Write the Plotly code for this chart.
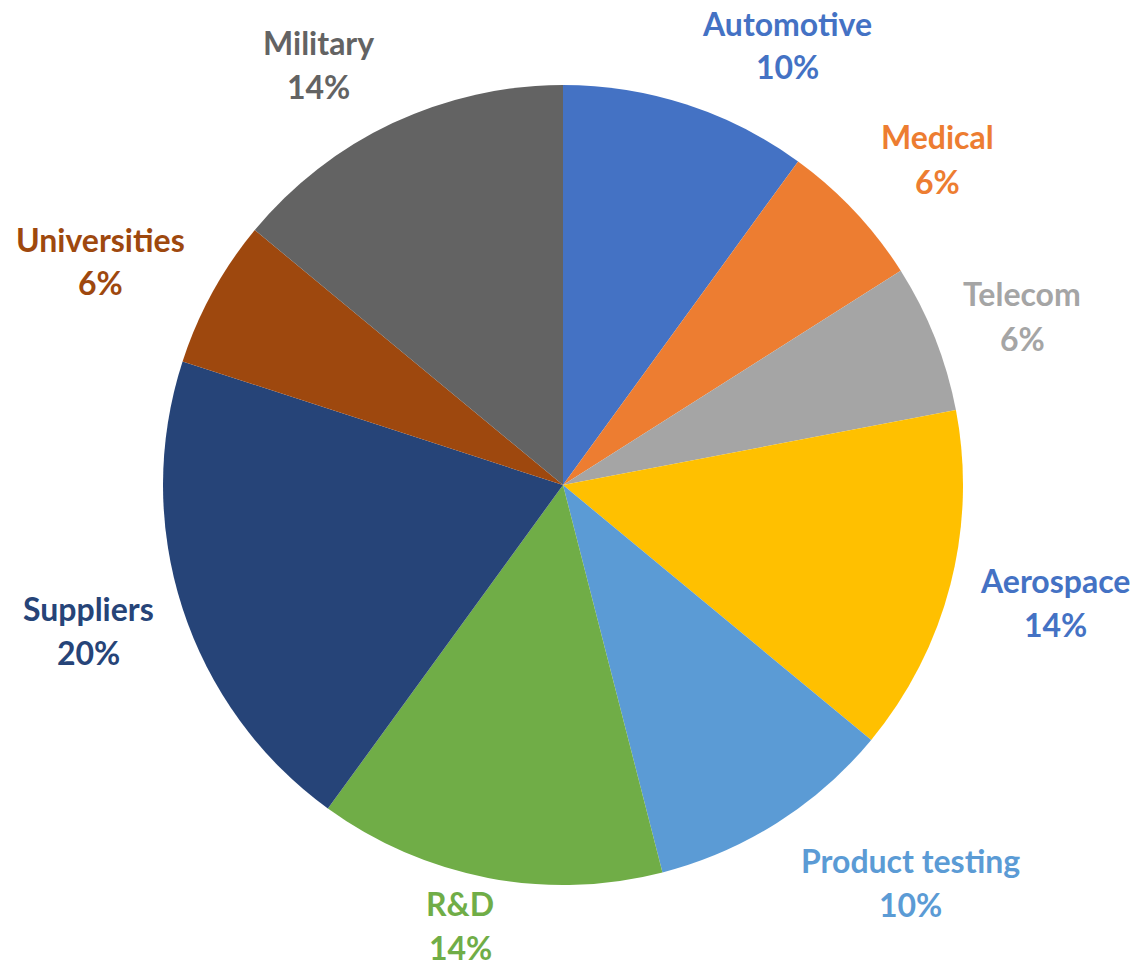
import plotly.graph_objects as go

categories = ["Automotive", "Medical", "Telecom", "Aerospace", "Product testing",
              "R&D", "Suppliers", "Universities", "Military"]
values = [10, 6, 6, 14, 10, 14, 20, 6, 14]

slice_colors = ["#4472C4", "#ED7D31", "#A5A5A5", "#FFC000", "#5B9BD5",
                "#70AD47", "#264478", "#9E480E", "#636363"]
label_colors = ["#4472C4", "#ED7D31", "#A5A5A5", "#4472C4", "#5B9BD5",
                "#70AD47", "#264478", "#9E480E", "#636363"]
# label block centres in page pixels (style only)
label_px = [(787, 45), (937, 159), (1022, 316), (1055, 602), (910, 882),
            (460, 925), (88, 630), (100, 261), (318, 64)]

W, H = 1139, 967
cx, cy, r = 563, 485, 400

fig = go.Figure(go.Pie(
    labels=categories, values=values, sort=False, direction="clockwise",
    rotation=0, textinfo="none", hoverinfo="label+percent",
    marker=dict(colors=slice_colors, line=dict(color="white", width=0)),
    domain=dict(x=[(cx - r) / W, (cx + r) / W], y=[1 - (cy + r) / H, 1 - (cy - r) / H]),
    showlegend=False,
))

total = sum(values)
for cat, val, col, (px, py) in zip(categories, values, label_colors, label_px):
    pct = round(100 * val / total)
    x = px / W
    for txt, dy in ((cat, -22), (f"{pct}%", 22)):
        fig.add_annotation(x=x, y=1 - (py + dy) / H, xref="paper", yref="paper",
                           text=f"<b>{txt}</b>", showarrow=False,
                           xanchor="center", yanchor="middle",
                           font=dict(family="Lato", size=32, color=col))

fig.update_layout(width=W, height=H, margin=dict(l=0, r=0, t=0, b=0),
                  paper_bgcolor="white", plot_bgcolor="white")
fig.write_html("out.html", config={"displayModeBar": False},
               post_script="document.body.style.margin='0';document.body.style.overflow='hidden';")
